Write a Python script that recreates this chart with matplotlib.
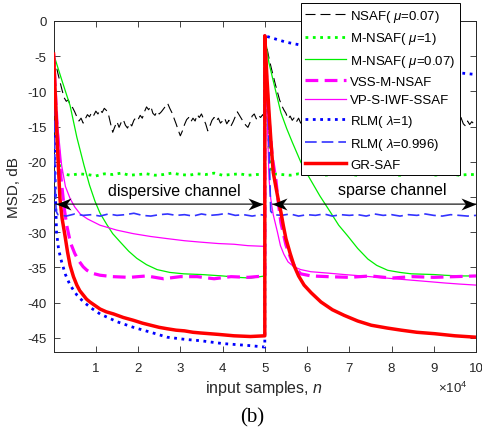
import numpy as np
import matplotlib
matplotlib.use("Agg")
import matplotlib.pyplot as plt
from matplotlib.path import Path

plt.rcParams['font.family'] = ['Liberation Sans', 'DejaVu Sans']
plt.rcParams['mathtext.fontset'] = 'custom'
plt.rcParams['mathtext.rm'] = 'Liberation Sans'
plt.rcParams['mathtext.it'] = 'Liberation Sans:italic'

# ---------------- data (x in units of 1e4 samples, y in dB) ----------------
labels = ['NSAF( $\\mu$=0.07)', 'M-NSAF( $\\mu$=1)', 'M-NSAF( $\\mu$=0.07)', 'VSS-M-NSAF',
          'VP-S-IWF-SSAF', 'RLM( $\\lambda$=1)', 'RLM( $\\lambda$=0.996)', 'GR-SAF']

nsaf_first = [-4.7, -6.0, -7.4, -8.6, -9.8, -10.9, -11.4, -11.2, -12.1, -12.3,
              -12.9, -13.6, -14.2, -13.8, -14.5, -13.9, -13.3, -13.6, -13.0, -13.4,
              -12.8, -13.2, -12.6, -13.0, -12.4, -12.7, -13.3, -14.6, -15.8, -15.0,
              -14.3, -15.1, -14.4, -14.0, -14.8, -15.2, -14.5, -14.9, -14.1, -13.7,
              -14.0, -13.4, -13.8, -12.9, -12.2, -12.6, -12.1, -13.1, -13.4, -12.8,
              -13.2, -12.9, -12.5, -12.1, -11.7, -12.4, -13.0, -13.8, -14.6, -15.5,
              -16.3, -15.6, -14.7, -14.0, -13.7, -14.3, -13.8, -14.2, -13.3, -13.7,
              -13.2, -13.9, -14.6, -15.6, -14.9, -14.1, -13.7, -14.2, -13.8, -14.5,
              -14.2, -13.8, -14.6, -14.1, -14.9, -14.3, -13.6, -12.9, -13.4, -13.9,
              -14.4, -14.8, -15.1, -14.4, -13.5, -13.2, -13.9, -13.4, -13.7, -13.3,
              -13.8]
nsaf_second = [-2.1, -3.8, -5.3, -6.6, -7.8, -9.0, -10.1, -11.2, -12.0, -12.6,
               -13.1, -13.9, -13.5, -14.1, -13.7, -14.3, -13.8, -14.5, -14.0, -14.4,
               -13.9, -14.6, -14.2, -13.8, -14.5, -15.0, -14.4, -14.1, -13.6, -14.2,
               -14.7, -14.3, -13.9, -14.5, -14.9, -14.2, -13.8, -14.4, -14.0, -14.6,
               -15.1, -14.5, -14.0, -13.7, -14.3, -14.8, -14.2, -13.9, -14.5, -14.1,
               -14.6, -14.0, -13.6, -14.2, -14.7, -14.3, -14.9, -14.4, -13.9, -14.3,
               -14.8, -14.2, -13.8, -14.4, -14.0, -14.5, -14.9, -14.3, -14.0, -14.6,
               -14.2, -13.8, -14.3, -14.7, -14.1, -13.9, -14.4, -14.0, -14.5, -13.9,
               -14.3, -14.7, -14.2, -13.8, -14.4, -14.1, -14.6, -14.2, -14.5, -14.0,
               -13.9, -13.2, -12.9, -13.8, -14.6, -14.9, -14.2, -14.7, -14.3, -14.6,
               -14.6]

mnsaf1_x = [0.0, 0.05, 0.1, 0.15, 0.2, 0.4, 0.6, 0.8, 1.0, 1.2, 1.4, 1.6, 1.8, 2.0, 2.2, 2.4,
            2.6, 2.8, 3.0, 3.2, 3.4, 3.6, 3.8, 4.0, 4.2, 4.4, 4.6, 4.8, 5.0,
            5.0, 5.05, 5.1, 5.15, 5.2, 5.4, 5.6, 5.8, 6.0, 6.2, 6.4, 6.6, 6.8, 7.0, 7.2, 7.4,
            7.6, 7.8, 8.0, 8.2, 8.4, 8.6, 8.8, 9.0, 9.2, 9.4, 9.6, 9.8, 10.0]
mnsaf1_y = [-4.7, -12.0, -18.0, -21.0, -21.7, -21.9, -21.7, -21.8, -22.0, -21.7, -21.8, -21.6,
            -21.9, -21.8, -21.7, -21.9, -21.8, -21.6, -21.8, -21.9, -21.7, -21.8, -21.6,
            -21.9, -21.8, -21.7, -21.9, -21.8, -21.8,
            -2.1, -12.0, -18.0, -21.0, -21.7, -21.8, -21.9, -21.7, -21.8, -21.6, -21.9, -21.8,
            -21.7, -21.8, -21.9, -21.7, -21.8, -21.6, -21.8, -21.9, -21.7, -21.8, -21.6,
            -21.9, -21.8, -21.7, -21.9, -21.8, -21.8]

mnsaf07_x = [0.0, 0.2, 0.39, 0.55, 0.72, 0.85, 0.98, 1.1, 1.26, 1.4, 1.58, 1.78, 1.97, 2.2,
             2.45, 2.75, 3.08, 3.5, 4.0, 4.35, 4.67, 5.0,
             5.0, 5.1, 5.2, 5.38, 5.52, 5.65, 5.85, 6.03, 6.3, 6.57, 6.75, 6.96, 7.2, 7.44, 7.65,
             7.91, 8.2, 8.47, 9.0, 9.25, 9.6, 10.0]
mnsaf07_y = [-4.7, -8.5, -12.0, -16.5, -20.5, -23.3, -25.6, -27.3, -28.9, -30.2, -31.4, -32.7,
             -33.7, -34.6, -35.3, -35.7, -35.9, -36.0, -36.2, -36.4, -36.5, -36.2,
             -2.1, -6.0, -8.5, -13.0, -15.3, -17.2, -20.0, -22.0, -24.8, -27.3, -29.0, -30.5,
             -32.3, -33.8, -34.7, -35.4, -35.7, -35.9, -36.0, -36.1, -36.2, -36.2]

vss_x = [0.0, 0.05, 0.1, 0.17, 0.25, 0.31, 0.4, 0.5, 0.59, 0.7, 0.79, 0.9, 1.1, 1.4, 1.8, 2.2,
         2.6, 3.0, 3.4, 3.8, 4.2, 4.6, 5.0,
         5.0, 5.05, 5.1, 5.18, 5.26, 5.32, 5.38, 5.5, 5.62, 5.73, 5.85, 6.1, 6.49, 7.0, 7.5,
         8.0, 8.5, 9.0, 9.5, 10.0]
vss_y = [-4.7, -11.0, -17.0, -22.0, -26.5, -29.0, -31.5, -33.0, -34.0, -34.9, -35.4, -35.8,
         -36.1, -36.3, -36.4, -36.2, -36.6, -36.3, -36.3, -36.6, -36.3, -36.4, -36.2,
         -2.1, -9.0, -14.0, -19.5, -22.4, -25.8, -28.6, -31.8, -33.8, -35.1, -35.9, -36.2,
         -36.3, -36.4, -36.2, -36.5, -36.3, -36.4, -36.3, -36.2]

vps_x = [0.0, 0.05, 0.1, 0.19, 0.28, 0.39, 0.5, 0.63, 0.8, 1.1, 1.5, 1.89, 2.3, 2.69, 3.1,
         3.48, 3.9, 4.27, 4.6, 5.0,
         5.0, 5.05, 5.1, 5.14, 5.2, 5.3, 5.37, 5.45, 5.55, 5.69, 5.85, 6.09, 6.5, 6.88, 7.3,
         7.67, 8.07, 8.47, 8.87, 9.26, 9.6, 10.0]
vps_y = [-4.7, -10.0, -15.0, -20.5, -23.5, -25.2, -26.4, -27.4, -28.1, -29.0, -29.7, -30.2,
         -30.6, -30.9, -31.2, -31.4, -31.6, -31.7, -31.9, -32.0,
         -2.1, -12.0, -22.4, -25.2, -27.5, -30.0, -31.9, -33.1, -34.2, -34.9, -35.3, -35.6,
         -35.8, -36.0, -36.2, -36.4, -36.6, -36.8, -37.0, -37.2, -37.35, -37.5]

rlm1_x = [0.0, 0.02, 0.04, 0.07, 0.12, 0.19, 0.28, 0.39, 0.55, 0.71, 0.9, 1.1, 1.5, 1.89,
          2.3, 2.69, 3.1, 3.48, 4.0, 4.66, 5.0,
          5.0, 5.5, 6.0, 6.5, 7.0, 7.5, 8.0, 8.5, 9.0, 9.5, 10.0]
rlm1_y = [-4.7, -15.0, -24.0, -30.0, -32.5, -34.2, -36.0, -37.5, -38.9, -39.9, -40.8, -41.6,
          -42.7, -43.5, -44.2, -44.9, -45.2, -45.4, -45.8, -46.1, -46.3,
          -2.1, -3.0, -3.6, -4.1, -4.7, -5.2, -5.7, -6.3, -6.8, -7.3, -7.6]

rlm996_x = [0.0, 0.02, 0.04, 0.06, 0.1, 0.3, 0.5, 0.7, 0.9, 1.1, 1.3, 1.5, 1.7, 1.9, 2.1, 2.3,
            2.5, 2.7, 2.9, 3.1, 3.3, 3.5, 3.7, 3.9, 4.1, 4.3, 4.5, 4.7, 4.9, 5.0,
            5.0, 5.03, 5.06, 5.1, 5.14, 5.2, 5.4, 5.6, 5.8, 6.0, 6.2, 6.4, 6.6, 6.8, 7.0, 7.2,
            7.4, 7.6, 7.8, 8.0, 8.2, 8.4, 8.6, 8.8, 9.0, 9.2, 9.4, 9.6, 9.8, 10.0]
rlm996_y = [-4.7, -15.0, -24.0, -27.0, -27.5, -27.7, -27.4, -27.6, -27.5, -27.7, -27.4, -27.6,
            -27.5, -27.3, -27.6, -27.7, -27.5, -27.4, -27.6, -27.5, -27.7, -27.4, -27.6, -27.5,
            -27.3, -27.6, -27.5, -27.7, -27.5, -27.6,
            -2.1, -5.0, -9.0, -18.0, -27.0, -27.5, -27.6, -27.4, -27.7, -27.5, -27.6, -27.4,
            -27.7, -27.5, -27.6, -27.5, -27.7, -27.4, -27.6, -27.5, -27.7, -27.5, -27.6, -27.4,
            -27.6, -27.7, -27.5, -27.6, -27.7, -27.6]

grsaf_x = [0.0, 0.05, 0.1, 0.15, 0.2, 0.27, 0.33, 0.39, 0.47, 0.55, 0.62, 0.7, 0.78, 0.86,
           0.98, 1.1, 1.25, 1.42, 1.65, 1.89, 2.1, 2.3, 2.5, 2.69, 2.9, 3.1, 3.3, 3.48, 3.9,
           4.27, 4.66, 5.0,
           5.0, 5.05, 5.1, 5.15, 5.2, 5.26, 5.32, 5.38, 5.44, 5.5, 5.6, 5.69, 5.8, 5.93, 6.1,
           6.33, 6.6, 6.88, 7.2, 7.52, 7.9, 8.23, 8.6, 9.02, 9.5, 10.0]
grsaf_y = [-4.7, -12.0, -19.0, -25.2, -28.0, -30.5, -32.8, -34.7, -36.3, -37.5, -38.3, -38.9,
           -39.5, -39.9, -40.4, -40.9, -41.3, -41.6, -42.1, -42.5, -42.9, -43.2, -43.5, -43.7,
           -43.9, -44.0, -44.2, -44.3, -44.5, -44.7, -44.8, -44.7,
           -2.1, -8.0, -13.0, -17.5, -21.5, -23.5, -25.4, -27.1, -29.1, -30.9, -33.0, -34.7,
           -36.2, -37.5, -38.6, -39.9, -41.0, -41.8, -42.6, -43.2, -43.6, -43.9, -44.2, -44.4,
           -44.7, -44.9]

xtick_vals = [1, 2, 3, 4, 5, 6, 7, 8, 9, 10]
ytick_vals = [0, -5, -10, -15, -20, -25, -30, -35, -40, -45]

SCALE = 1e4

# ---------------- figure ----------------
W, H = 482, 435
fig = plt.figure(figsize=(W / 100, H / 100), dpi=100)
ax = fig.add_axes([53.6 / W, 1 - 353 / H, 422.4 / W, 331 / H])

axc = '#262626'

nsaf_x = np.concatenate([np.linspace(0, 5, len(nsaf_first)), np.linspace(5, 10, len(nsaf_second))])
nsaf_y = np.array(nsaf_first + nsaf_second)

def sx(v):
    return np.asarray(v) * SCALE

ax.plot(sx(nsaf_x), nsaf_y, color='k', lw=0.8, linestyle=(0, (9, 4.5)), label=labels[0], zorder=2)
ax.plot(sx(mnsaf1_x), mnsaf1_y, color='#00ff00', lw=2.0, linestyle=':', label=labels[1], zorder=3)
ax.plot(sx(mnsaf07_x), mnsaf07_y, color='#00ee00', lw=0.9, linestyle='-', label=labels[2], zorder=4)
ax.plot(sx(vss_x), vss_y, color='#ff00ff', lw=2.3, linestyle=(0, (4.0, 2.0)), label=labels[3], zorder=5)
ax.plot(sx(vps_x), vps_y, color='#ff00ff', lw=0.9, linestyle='-', label=labels[4], zorder=6)
ax.plot(sx(rlm1_x), rlm1_y, color='#0000ff', lw=2.0, linestyle=':', label=labels[5], zorder=7)
ax.plot(sx(rlm996_x), rlm996_y, color='#3333ff', lw=1.2, linestyle=(0, (7, 3)), label=labels[6], zorder=8)
ax.plot(sx(grsaf_x), grsaf_y, color='#ff0000', lw=2.5, linestyle='-', label=labels[7], zorder=9)

ax.set_xlim(0, 10 * SCALE)
ax.set_ylim(-47, 0)
ax.set_xticks([v * SCALE for v in xtick_vals])
ax.set_xticklabels([str(v) for v in xtick_vals])
ax.set_yticks(ytick_vals)
ax.set_yticklabels([str(v) for v in ytick_vals])
ax.tick_params(direction='in', length=4, width=0.6, colors=axc, labelsize=9.5,
               top=True, right=True, pad=5)
ax.tick_params(axis='x', pad=7)
for s in ax.spines.values():
    s.set_color(axc)
    s.set_linewidth(0.7)

# arrows (shaft + concave heads) and channel labels
head_r = Path([(0, 0), (-15, 6), (-10.5, 0), (-15, -6), (0, 0)],
              [Path.MOVETO, Path.LINETO, Path.LINETO, Path.LINETO, Path.CLOSEPOLY])
head_l = Path([(0, 0), (15, 6), (10.5, 0), (15, -6), (0, 0)],
              [Path.MOVETO, Path.LINETO, Path.LINETO, Path.LINETO, Path.CLOSEPOLY])
arrow_spans = [(0.05, 4.95), (5.18, 10.0)]
arrow_y = -26
for a0, a1 in arrow_spans:
    ax.annotate('', xy=(a0 * SCALE, arrow_y), xytext=(a1 * SCALE, arrow_y),
                arrowprops=dict(arrowstyle='-', color='k', lw=0.8, shrinkA=0, shrinkB=0),
                zorder=10)
    ax.plot([a0 * SCALE], [arrow_y], marker=head_l, ms=21.6, color='k', mew=0, zorder=10,
            clip_on=False)
    ax.plot([a1 * SCALE], [arrow_y], marker=head_r, ms=21.6, color='k', mew=0, zorder=10,
            clip_on=False)
ax.text(2.86 * SCALE, -24.0, 'dispersive channel', ha='center', va='center', fontsize=11.5,
        color='k', zorder=11)
ax.text(8.02 * SCALE, -23.9, 'sparse channel', ha='center', va='center', fontsize=11.5,
        color='k', zorder=11)

leg = ax.legend(loc='upper right', bbox_to_anchor=(460 / W, 1 - 4 / H),
                bbox_transform=fig.transFigure, borderaxespad=0, fontsize=9.5,
                handlelength=3.1, handletextpad=0.3, labelspacing=0.5, borderpad=0.35,
                fancybox=False, framealpha=1, edgecolor='k')
leg.get_frame().set_linewidth(0.7)
leg.set_zorder(20)

fig.text(14.5 / W, 1 - 187.5 / H, 'MSD, dB', rotation=90, ha='center', va='center',
         fontsize=11, color=axc)
fig.text(264.3 / W, 1 - 388 / H, 'input samples, $\\it{n}$', ha='center', va='center',
         fontsize=11.5, color=axc)
fig.text(453 / W, 1 - 388 / H, '$\\times$10$^4$', ha='center', va='center', fontsize=9.5,
         color=axc)
fig.text(251.7 / W, 1 - 418 / H, '(b)', ha='center', va='center', fontsize=15,
         family='Liberation Serif', color='k')

fig.savefig('out.png', dpi=100)
